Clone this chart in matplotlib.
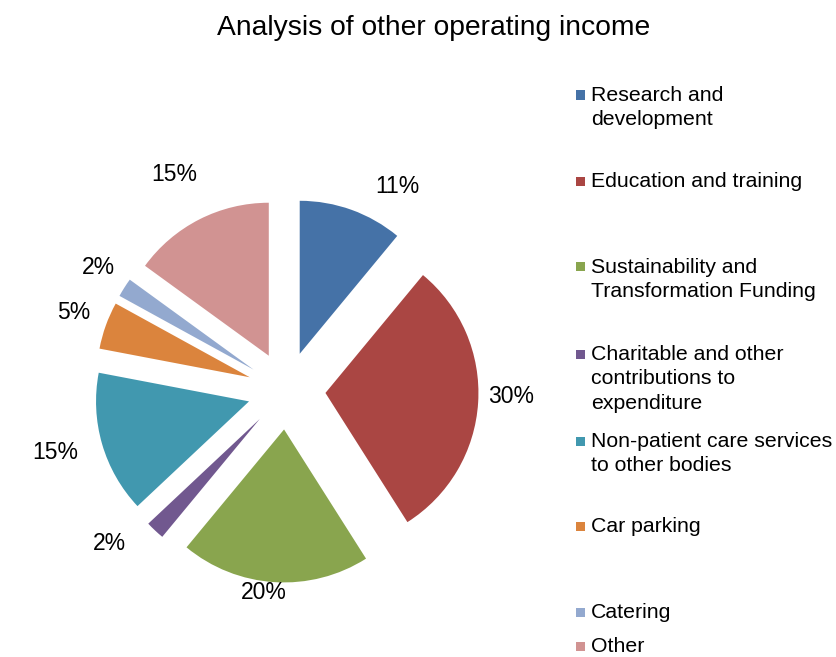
import numpy as np
import matplotlib.pyplot as plt
from matplotlib.patches import Rectangle

plt.rcParams['font.family'] = ['Liberation Sans', 'DejaVu Sans']

# Other operating income split (percent)
categories = ['Research and\ndevelopment',
              'Education and training',
              'Sustainability and\nTransformation Funding',
              'Charitable and other\ncontributions to\nexpenditure',
              'Non-patient care services\nto other bodies',
              'Car parking',
              'Catering',
              'Other']
shares = [11, 30, 20, 2, 15, 5, 2, 15]
colors = ['#4572A7', '#AA4643', '#89A54E', '#71588F',
          '#4198AF', '#DB843D', '#93A9CF', '#D19392']

# label placement around each exploded slice: radius factor and angle nudge (deg)
label_r = [1.264, 1.213, 1.075, 1.276, 1.308, 1.223, 1.212, 1.337]
label_da = [-10.4, 2.4, -3.6, -7.2, -1.3, -0.3, -1.0, 0.6]
# legend first-line baselines (pixels from top)
legend_base = [101, 187, 273, 360, 447, 532, 618, 652]

W, H = 837, 657
fig = plt.figure(figsize=(W / 100, H / 100), dpi=100)

cx, cy, R, half = 286.5, 390.5, 153.0, 200.0
ax = fig.add_axes([(cx - half) / W, (H - cy - half) / H, 2 * half / W, 2 * half / H])

wedges, _ = ax.pie(shares, colors=colors, startangle=90, counterclock=False,
                   explode=[0.255] * len(shares), radius=1.0,
                   wedgeprops=dict(linewidth=0))
lim = half / R
ax.set_xlim(-lim, lim)
ax.set_ylim(-lim, lim)
ax.set_aspect('equal')

for w, v, r, da in zip(wedges, shares, label_r, label_da):
    mid = np.deg2rad((w.theta1 + w.theta2) / 2 + da)
    x0, y0 = w.center
    ax.text(x0 + r * np.cos(mid), y0 + r * np.sin(mid), f'{v}%',
            ha='center', va='center', fontsize=16.5, color='#000000')

fig.text(434 / W, 1 - 35 / H, 'Analysis of other operating income',
         ha='center', va='baseline', fontsize=20.3, color='#000000')

# legend drawn by hand to keep Excel-like spacing
for name, col, base in zip(categories, colors, legend_base):
    fig.patches.append(Rectangle((576 / W, 1 - (base - 1.5) / H), 9 / W, 9 / H,
                                 transform=fig.transFigure, facecolor=col,
                                 edgecolor='none'))
    for i, line in enumerate(name.split('\n')):
        fig.text(591 / W, 1 - (base + i * 24.3) / H, line, ha='left',
                 va='baseline', fontsize=15.3, color='#000000')

fig.savefig('out.png', dpi=100, facecolor='white')
